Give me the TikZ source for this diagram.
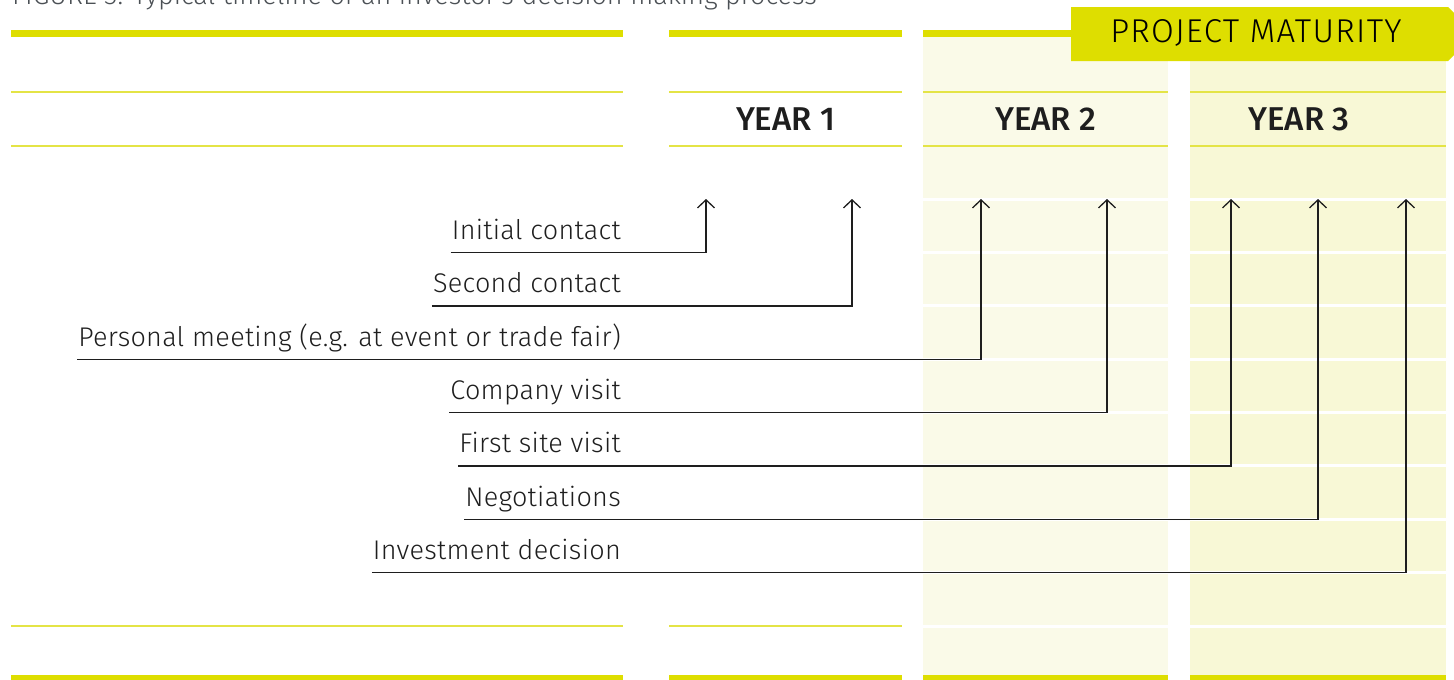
\documentclass[tikz,border=0pt]{standalone}
\usepackage{fontspec}
\setmainfont{Fira Sans}[UprightFont=* Light, BoldFont=* Medium]
\usetikzlibrary{arrows.meta, calc, positioning}

\definecolor{dinyellow}{RGB}{222,222,0}
\definecolor{thinyellow}{RGB}{228,228,70}
\definecolor{paleyear}{RGB}{250,250,232}
\definecolor{paleyearb}{RGB}{248,248,214}
\definecolor{ink}{RGB}{30,30,30}
\definecolor{titlegrey}{RGB}{75,80,85}

\begin{document}
\begin{tikzpicture}[x=1pt, y=-1pt,
  lab/.style={anchor=south east, inner xsep=1pt, inner ysep=13pt, text depth=0pt,
    text=ink, font=\fontsize{27}{27}\selectfont\addfontfeature{LetterSpace=1}},
  yr/.style={text=ink, font=\bfseries\fontsize{33}{33}\selectfont},
  arr/.style={draw=ink, line width=1.4pt,
    -{Straight Barb[length=8pt, width=17pt, line width=1.3pt]}}]
\useasboundingbox (0,0) rectangle (1454,680);

\fill[paleyear] (923,37) rectangle (1168,680);
\fill[paleyearb] (1190,61) rectangle (1446,680);
\foreach \k in {0,...,8}
  \draw[white, line width=3pt] (923,199+53.375*\k) -- (1168,199+53.375*\k)
    (1190,199+53.375*\k) -- (1446,199+53.375*\k);

\foreach \a/\b in {11/623, 669/902, 923/1071}
  \fill[dinyellow] (\a,30) rectangle (\b,37);
\foreach \a/\b in {11/623, 669/902, 923/1168, 1190/1446}{
  \fill[dinyellow] (\a,675) rectangle (\b,684);
  \draw[thinyellow, line width=2pt] (\a,92) -- (\b,92) (\a,146) -- (\b,146);
}
\foreach \a/\b in {11/623, 669/902}
  \draw[thinyellow, line width=2pt] (\a,626) -- (\b,626);

\fill[dinyellow] (1071,7) -- (1448,7) -- (1458,17) -- (1458,51) -- (1448,61) -- (1071,61) -- cycle;
\node[text=black, font=\fontsize{33}{33}\selectfont\addfontfeature{LetterSpace=4}] (maturity) at (1256,33) {PROJECT MATURITY};

\node[anchor=base west, inner sep=0pt, text=titlegrey, font=\fontsize{27}{27}\selectfont] (title) at (12,5)
  {FIGURE 3: Typical timeline of an investor's decision making process};

\node[yr] (year1) at (785.5,119) {YEAR 1};
\node[yr] (year2) at (1045.5,119) {YEAR 2};
\node[yr] (year3) at (1299,119) {YEAR 3};

\node[lab] (initial) at (622,252.4) {Initial contact};
\node[lab] (second) at (622,305.8) {Second contact};
\node[lab] (meeting) at (622,359.2) {Personal meeting (e.g. at event or trade fair)};
\node[lab] (company) at (622,412.5) {Company visit};
\node[lab] (site) at (622,465.9) {First site visit};
\node[lab] (negot) at (622,519.3) {Negotiations};
\node[lab] (invest) at (622,572.6) {Investment decision};

\coordinate (tinitial) at (706,199);
\coordinate (tsecond) at (852,199);
\coordinate (tmeeting) at (981,199);
\coordinate (tcompany) at (1107,199);
\coordinate (tsite) at (1231,199);
\coordinate (tnegot) at (1318,199);
\coordinate (tinvest) at (1406,199);

\draw[arr] (initial.south west) -| (tinitial);
\draw[arr] (second.south west) -| (tsecond);
\draw[arr] (meeting.south west) -| (tmeeting);
\draw[arr] (company.south west) -| (tcompany);
\draw[arr] (site.south west) -| (tsite);
\draw[arr] (negot.south west) -| (tnegot);
\draw[arr] (invest.south west) -| (tinvest);
\end{tikzpicture}
\end{document}
